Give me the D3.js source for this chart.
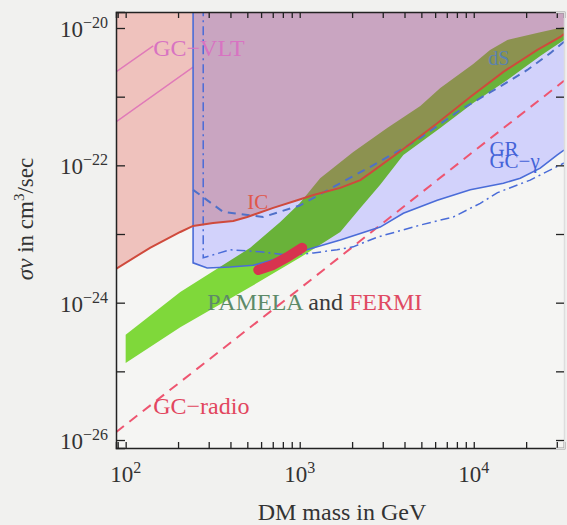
<!DOCTYPE html>
<html>
<head>
<meta charset="utf-8">
<script src="https://cdn.jsdelivr.net/npm/d3@7"></script>
<style>
  body { margin: 0; background: #f1f1ef; }
  svg text { font-family: "Liberation Serif", "DejaVu Serif", serif; }
</style>
</head>
<body>
<div id="chart"></div>
<script>
'use strict';

// ---- data (mass in GeV, sigma v in cm^3/s) ----
var icMass  = [88, 138, 206, 244, 318, 415, 499, 704, 968, 1200, 1710, 2230, 2540, 3940, 6170, 9550, 14800, 23200, 31400, 33000];
var icSigma = [3.1e-24, 6.3e-24, 1.07e-23, 1.31e-23, 1.45e-23, 1.55e-23, 1.77e-23, 2.4e-23, 3.1e-23, 3.7e-23, 4.7e-23, 6.1e-23, 7.7e-23, 1.73e-22, 4.1e-22, 9.9e-22, 2.3e-21, 4.8e-21, 7.4e-21, 8.2e-21];

var pamelaMassHi  = [100, 206, 520, 773, 1000, 1310, 2030, 3180, 4930, 6420, 9930, 12400, 15600, 24100, 33000];
var pamelaSigmaHi = [3.4e-25, 1.43e-24, 6.3e-24, 1.5e-23, 2.8e-23, 6.5e-23, 1.56e-22, 3.5e-22, 7.3e-22, 1.34e-21, 3.0e-21, 4.8e-21, 6.7e-21, 8.7e-21, 1.03e-20];
var pamelaMassLo  = [100, 206, 520, 1000, 1710, 2230, 2900, 3940, 6420, 9930, 15600, 24100, 33000];
var pamelaSigmaLo = [1.32e-25, 4.4e-25, 1.69e-24, 4.5e-24, 1.07e-23, 2.4e-23, 5.2e-23, 1.42e-22, 3.5e-22, 8.1e-22, 1.75e-21, 3.9e-21, 6.7e-21];

var grMass  = [244, 244, 294, 399, 541, 773, 1100, 1710, 2900, 3940, 6170, 9550, 14800, 18500, 24100, 30200, 33000];
var grSigma = [2e-20, 3.8e-24, 3.2e-24, 3.3e-24, 3.5e-24, 4.5e-24, 5.9e-24, 8.2e-24, 1.26e-23, 2.0e-23, 3.1e-23, 4.4e-23, 5.5e-23, 6.5e-23, 9.1e-23, 1.42e-22, 1.67e-22];

var gcGammaMass  = [279, 279, 399, 593, 882, 1200, 1640, 2030, 2790, 4930, 7630, 10900, 13700, 21100, 33000];
var gcGammaSigma = [2e-20, 4.5e-24, 5.9e-24, 5.5e-24, 4.9e-24, 5.3e-24, 5.9e-24, 6.5e-24, 9.0e-24, 1.35e-23, 1.77e-23, 2.8e-23, 4.0e-23, 6.1e-23, 1.08e-22];

var dsMass  = [244, 363, 617, 1000, 1710, 2790, 4740, 8360, 15600, 20300, 27500, 33000];
var dsSigma = [4.4e-23, 2.1e-23, 1.77e-23, 2.6e-23, 5.5e-23, 1.08e-22, 2.34e-22, 6.4e-22, 1.63e-21, 2.45e-21, 4.3e-21, 6.3e-21];

var gcRadioMass  = [88, 1000, 10000, 33000];
var gcRadioSigma = [1.3e-26, 1.6e-24, 1.6e-22, 1.7e-21];

var vltMassA  = [88, 144];
var vltSigmaA = [2.3e-21, 5.5e-21];
var vltMassB  = [88, 244];
var vltSigmaB = [4.3e-22, 2.7e-21];

var fermiMass  = [578, 695, 848, 1033];
var fermiSigma = [3.0e-24, 3.5e-24, 4.6e-24, 6.3e-24];

var xTickLabels = [100, 1000, 10000];
var yTickLabels = [1e-20, 1e-22, 1e-24, 1e-26];

// ---- chart ----
var width = 567, height = 525;
var plotLeft = 116, plotRight = 564, plotTop = 12, plotBottom = 448;

var x = d3.scaleLog().domain([88, 33000]).range([plotLeft, plotRight]);
var y = d3.scaleLog().domain([7.65e-27, 1.71e-20]).range([plotBottom, plotTop]);

function zip(ms, ss) {
  return ms.map(function(m, i) { return [m, ss[i]]; });
}

var svg = d3.select('#chart').append('svg')
  .attr('width', width)
  .attr('height', height);

svg.append('clipPath').attr('id', 'plot')
  .append('rect')
  .attr('x', plotLeft).attr('y', plotTop)
  .attr('width', plotRight - plotLeft).attr('height', plotBottom - plotTop);

svg.append('rect')
  .attr('x', plotLeft).attr('y', plotTop)
  .attr('width', plotRight - plotLeft).attr('height', plotBottom - plotTop)
  .attr('fill', '#f5f5f3');

var g = svg.append('g').attr('clip-path', 'url(#plot)');

var line = d3.line()
  .x(function(d) { return x(d[0]); })
  .y(function(d) { return y(d[1]); });

var areaTop = d3.area()
  .x(function(d) { return x(d[0]); })
  .y0(function(d) { return y(d[1]); })
  .y1(plotTop);

// PAMELA band
var band = zip(pamelaMassHi, pamelaSigmaHi).concat(zip(pamelaMassLo, pamelaSigmaLo).reverse());
g.append('path')
  .attr('d', line(band) + 'Z')
  .attr('fill', '#7fd83a');

// IC excluded region (salmon)
g.append('path')
  .attr('d', areaTop(zip(icMass, icSigma)))
  .attr('fill', '#e67d73')
  .attr('fill-opacity', 0.42);

// gamma excluded region (lavender), multiplied over what is below
g.append('path')
  .attr('d', areaTop(zip(grMass, grSigma)))
  .attr('fill', '#d2d2fb')
  .style('mix-blend-mode', 'multiply');

// GC-VLT lines
[zip(vltMassA, vltSigmaA), zip(vltMassB, vltSigmaB)].forEach(function(pts) {
  g.append('path')
    .attr('d', line(pts))
    .attr('fill', 'none')
    .attr('stroke', '#e07ab8')
    .attr('stroke-width', 1.5);
});

// GC-radio
g.append('path')
  .attr('d', line(zip(gcRadioMass, gcRadioSigma)))
  .attr('fill', 'none')
  .attr('stroke', '#ee5570')
  .attr('stroke-width', 2)
  .attr('stroke-dasharray', '10,7');

// GC-gamma (dash-dot)
g.append('path')
  .attr('d', line(zip(gcGammaMass, gcGammaSigma)))
  .attr('fill', 'none')
  .attr('stroke', '#4a6cd8')
  .attr('stroke-width', 1.5)
  .attr('stroke-dasharray', '9,4,2,4');

// GR (solid)
g.append('path')
  .attr('d', line(zip(grMass, grSigma)))
  .attr('fill', 'none')
  .attr('stroke', '#4a6cd8')
  .attr('stroke-width', 1.6);

// dSph (dashed)
g.append('path')
  .attr('d', line(zip(dsMass, dsSigma)))
  .attr('fill', 'none')
  .attr('stroke', '#4f70c8')
  .attr('stroke-width', 2)
  .attr('stroke-dasharray', '8,6');

// IC line
g.append('path')
  .attr('d', line(zip(icMass, icSigma)))
  .attr('fill', 'none')
  .attr('stroke', '#cf4a3c')
  .attr('stroke-width', 2);

// PAMELA + FERMI region
g.append('path')
  .attr('d', line(zip(fermiMass, fermiSigma)))
  .attr('fill', 'none')
  .attr('stroke', '#d8334f')
  .attr('stroke-width', 10)
  .attr('stroke-linecap', 'round');

// labels
function label(m, s, txt, color, size) {
  return svg.append('text')
    .attr('x', x(m)).attr('y', y(s))
    .attr('fill', color)
    .attr('font-size', size)
    .text(txt);
}
label(144, 3.9e-21, 'GC\u2212VLT', '#d873c2', 24);
label(499, 2.3e-23, 'IC', '#e0574a', 21);
label(12100, 2.9e-21, 'dS', '#5a82b0', 20);
label(12300, 1.35e-22, 'GR', '#4463d8', 21);
label(12300, 9.1e-23, 'GC\u2212\u03b3', '#4463d8', 21);
label(144, 2.4e-26, 'GC\u2212radio', '#e2465e', 24);

var pf = svg.append('text')
  .attr('x', x(294)).attr('y', y(7.8e-25))
  .attr('font-size', 24);
pf.append('tspan').attr('fill', '#5d8a68').text('PAMELA ');
pf.append('tspan').attr('fill', '#3a3a3a').text('and ');
pf.append('tspan').attr('fill', '#e04a62').text('FERMI');

// axes: ticks only, pointing inwards
var xMinor = [];
[10, 100, 1000, 10000].forEach(function(d) {
  for (var k = 1; k < 10; k++) {
    var v = d * k;
    if (v >= 88 && v <= 33000) xMinor.push(v);
  }
});
var yDecades = d3.range(-26, -19).map(function(e) { return Math.pow(10, e); });

svg.append('g')
  .attr('class', 'x axis')
  .attr('transform', 'translate(0,' + plotBottom + ')')
  .call(d3.axisBottom(x).tickValues(xMinor).tickSize(-6).tickFormat(''));
svg.append('g')
  .attr('class', 'x axis')
  .attr('transform', 'translate(0,' + plotTop + ')')
  .call(d3.axisTop(x).tickValues(xMinor).tickSize(-6).tickFormat(''));
svg.append('g')
  .attr('class', 'y axis')
  .attr('transform', 'translate(' + plotLeft + ',0)')
  .call(d3.axisLeft(y).tickValues(yDecades).tickSize(-9).tickFormat(''));
svg.append('g')
  .attr('class', 'y axis right')
  .attr('transform', 'translate(' + plotRight + ',0)')
  .call(d3.axisRight(y).tickValues(yDecades).tickSize(-8).tickFormat(''));

svg.selectAll('.axis path').attr('stroke', '#222').attr('stroke-width', 1.5);
svg.selectAll('.axis line').attr('stroke', '#222').attr('stroke-width', 1.3);
svg.select('.axis.right path').attr('stroke', '#ddd');

// tick labels with superscripts
xTickLabels.forEach(function(v) {
  var t = svg.append('text')
    .attr('x', x(v)).attr('y', plotBottom + 34)
    .attr('text-anchor', 'middle')
    .attr('font-size', 23).attr('fill', '#333');
  t.append('tspan').text('10');
  t.append('tspan').attr('font-size', 16).attr('dy', -9).text(Math.round(Math.log10(v)));
});

yTickLabels.forEach(function(v) {
  var t = svg.append('text')
    .attr('x', plotLeft - 8).attr('y', y(v) + 9)
    .attr('text-anchor', 'end')
    .attr('font-size', 23).attr('fill', '#333');
  t.append('tspan').text('10');
  t.append('tspan').attr('font-size', 16).attr('dy', -9).text('\u2212' + Math.abs(Math.round(Math.log10(v))));
});

// axis titles
svg.append('text')
  .attr('x', 342).attr('y', 520)
  .attr('text-anchor', 'middle')
  .attr('font-size', 24).attr('fill', '#333')
  .text('DM mass in GeV');

var yt = svg.append('text')
  .attr('transform', 'translate(33,219) rotate(-90)')
  .attr('text-anchor', 'middle')
  .attr('font-size', 23).attr('fill', '#333');
yt.append('tspan').attr('font-style', 'italic').text('\u03c3v');
yt.append('tspan').text(' in cm');
yt.append('tspan').attr('font-size', 15).attr('dy', -9).text('3');
yt.append('tspan').attr('dy', 9).text('/sec');
</script>
</body>
</html>
